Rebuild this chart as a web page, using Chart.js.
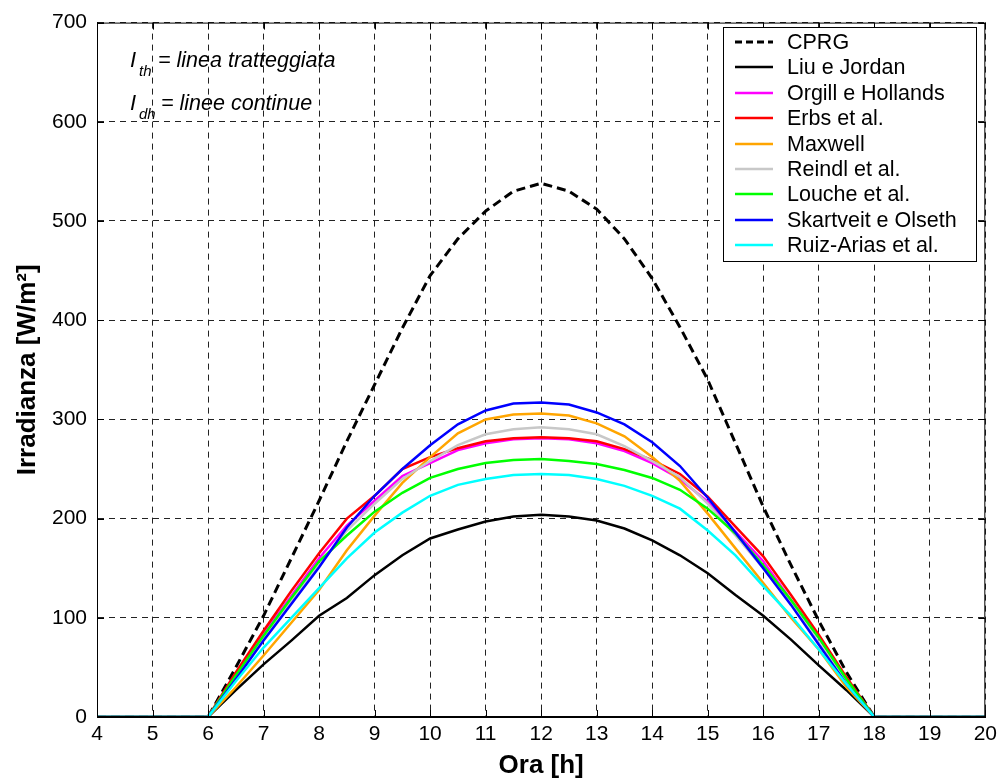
<!DOCTYPE html>
<html>
<head>
<meta charset="utf-8">
<script src="https://cdn.jsdelivr.net/npm/chart.js@4.4.0/dist/chart.umd.min.js"></script>
<style>
  body { margin: 0; background: #fff; }
  canvas { display: block; }
</style>
</head>
<body>
<canvas id="c" width="1002" height="784"></canvas>
<script>
// ore del giorno (asse x)
const hours = [4, 5, 6, 6.5, 7, 7.5, 8, 8.5, 9, 9.5, 10, 10.5, 11, 11.5, 12,
  12.5, 13, 13.5, 14, 14.5, 15, 15.5, 16, 16.5, 17, 17.5, 18, 19, 20];

// irradianza [W/m2]
const cprg     = [0, 0, 0, 50, 102, 160, 218, 278, 335, 392, 445, 482, 510, 530, 538, 530, 512, 482, 442, 393, 340, 276, 212, 153, 97, 45, 0, 0, 0];
const liu      = [0, 0, 0, 27, 53, 77, 102, 120, 143, 163, 180, 189, 197, 202, 204, 202, 198, 190, 178, 163, 145, 123, 102, 78, 52, 27, 0, 0, 0];
const orgill   = [0, 0, 0, 43, 84, 122, 160, 193, 218, 243, 256, 269, 276, 280, 281, 280, 276, 268, 256, 240, 217, 187, 157, 118, 80, 38, 0, 0, 0];
const erbs     = [0, 0, 0, 45, 87, 127, 165, 200, 223, 250, 262, 271, 278, 281, 282, 281, 278, 270, 259, 245, 222, 192, 162, 123, 83, 40, 0, 0, 0];
const maxwell  = [0, 0, 0, 30, 62, 95, 128, 168, 203, 236, 262, 286, 300, 305, 306, 304, 296, 283, 262, 238, 205, 170, 135, 100, 68, 30, 0, 0, 0];
const reindl   = [0, 0, 0, 40, 80, 117, 153, 188, 215, 240, 258, 274, 285, 290, 292, 290, 285, 273, 258, 242, 215, 183, 150, 115, 75, 35, 0, 0, 0];
const louche   = [0, 0, 0, 42, 82, 120, 157, 183, 207, 226, 241, 250, 256, 259, 260, 258, 255, 249, 241, 229, 210, 185, 153, 118, 80, 38, 0, 0, 0];
const skartv   = [0, 0, 0, 38, 77, 114, 151, 191, 223, 250, 274, 295, 309, 316, 317, 315, 307, 295, 277, 253, 221, 186, 150, 113, 73, 33, 0, 0, 0];
const ruiz     = [0, 0, 0, 36, 70, 100, 130, 160, 186, 206, 223, 234, 240, 244, 245, 244, 240, 233, 223, 210, 188, 163, 132, 102, 68, 33, 0, 0, 0];

const seriesNames = ['CPRG', 'Liu e Jordan', 'Orgill e Hollands', 'Erbs et al.', 'Maxwell',
  'Reindl et al.', 'Louche et al.', 'Skartveit e Olseth', 'Ruiz-Arias et al.'];
const seriesData = [cprg, liu, orgill, erbs, maxwell, reindl, louche, skartv, ruiz];
const seriesColors = ['#000000', '#000000', '#ff00ff', '#ff0000', '#ffa500',
  '#c8c8c8', '#00ff00', '#0000ff', '#00ffff'];

const xTicks = [4, 5, 6, 7, 8, 9, 10, 11, 12, 13, 14, 15, 16, 17, 18, 19, 20];
const yTicks = [0, 100, 200, 300, 400, 500, 600, 700];

const FONT = '"Liberation Sans", Arial, sans-serif';

const datasets = seriesNames.map((name, i) => ({
  label: name,
  data: hours.map((h, k) => ({ x: h, y: seriesData[i][k] })),
  borderColor: seriesColors[i],
  borderWidth: i === 0 ? 3 : 2.5,
  borderDash: i === 0 ? [9, 5] : [],
  pointRadius: 0,
  tension: 0,
  fill: false,
  order: seriesNames.length - i
}));

// riquadro, tacche interne, legenda e nota
const framePlugin = {
  id: 'frame',
  afterDraw(chart) {
    const ctx = chart.ctx;
    const a = chart.chartArea;
    const sx = chart.scales.x, sy = chart.scales.y;
    ctx.save();
    ctx.strokeStyle = '#000';
    ctx.lineWidth = 1;
    ctx.setLineDash([]);
    ctx.strokeRect(a.left + 0.5, a.top + 0.5, a.right - a.left - 1, a.bottom - a.top - 1);
    const tl = 7;
    ctx.beginPath();
    xTicks.forEach(v => {
      const px = Math.round(sx.getPixelForValue(v)) + 0.5;
      ctx.moveTo(px, a.bottom); ctx.lineTo(px, a.bottom - tl);
      ctx.moveTo(px, a.top); ctx.lineTo(px, a.top + tl);
    });
    yTicks.forEach(v => {
      const py = Math.round(sy.getPixelForValue(v)) + 0.5;
      ctx.moveTo(a.left, py); ctx.lineTo(a.left + tl, py);
      ctx.moveTo(a.right, py); ctx.lineTo(a.right - tl, py);
    });
    ctx.stroke();

    // nota in alto a sinistra
    ctx.fillStyle = '#000';
    ctx.textBaseline = 'alphabetic';
    ctx.textAlign = 'left';
    ctx.font = 'italic 22px ' + FONT;
    ctx.fillText('I', 130, 67);
    ctx.fillText('I', 130, 110);
    ctx.font = 'italic 21.5px ' + FONT;
    ctx.fillText('= linea tratteggiata', 158, 67);
    ctx.fillText('= linee continue', 161, 110);
    ctx.font = 'italic 15px ' + FONT;
    ctx.fillText('th', 139, 76);
    ctx.fillText('dh', 139, 119);

    // legenda
    const lx = 723, ly = 27, lw = 253, lh = 234;
    ctx.fillStyle = '#fff';
    ctx.fillRect(lx, ly, lw, lh);
    ctx.strokeStyle = '#000';
    ctx.lineWidth = 1;
    ctx.strokeRect(lx + 0.5, ly + 0.5, lw, lh);
    ctx.font = '21.5px ' + FONT;
    ctx.textBaseline = 'middle';
    chart.data.datasets.forEach((ds, i) => {
      const cy = 42 + i * 25.4;
      ctx.strokeStyle = ds.borderColor;
      ctx.lineWidth = ds.borderWidth;
      ctx.setLineDash(ds.borderDash.length ? [7, 4] : []);
      ctx.beginPath();
      ctx.moveTo(735, Math.round(cy));
      ctx.lineTo(773, Math.round(cy));
      ctx.stroke();
      ctx.setLineDash([]);
      ctx.fillStyle = '#000';
      ctx.fillText(ds.label, 787, cy + 1);
    });
    ctx.restore();
  }
};

new Chart(document.getElementById('c'), {
  type: 'line',
  data: { datasets },
  options: {
    responsive: false,
    animation: false,
    devicePixelRatio: 1,
    layout: { padding: { left: 0, top: 16, right: 14, bottom: 0 } },
    plugins: { legend: { display: false }, tooltip: { enabled: false } },
    scales: {
      x: {
        type: 'linear', min: 4, max: 20,
        afterFit: s => { s.height = 67; },
        afterBuildTicks: s => { s.ticks = xTicks.map(v => ({ value: v })); },
        ticks: { autoSkip: false, maxRotation: 0, padding: 5, color: '#000', font: { family: FONT, size: 21 } },
        grid: { color: '#222', lineWidth: 1, drawTicks: false },
        border: { display: true, color: '#000', dash: [6, 5] },
        title: { display: true, text: 'Ora [h]', color: '#000', padding: { top: 0, bottom: 3 },
          font: { family: FONT, size: 26, weight: 'bold' } }
      },
      y: {
        type: 'linear', min: 0, max: 700,
        afterFit: s => { s.width = 97; },
        afterBuildTicks: s => { s.ticks = yTicks.map(v => ({ value: v })); },
        ticks: { padding: 10, color: '#000', font: { family: FONT, size: 21 } },
        grid: { color: '#222', lineWidth: 1, drawTicks: false },
        border: { display: true, color: '#000', dash: [6, 5] },
        title: { display: true, text: 'Irradianza [W/m²]', color: '#000', padding: { top: 12, bottom: 0 },
          font: { family: FONT, size: 26, weight: 'bold' } }
      }
    }
  },
  plugins: [framePlugin]
});
</script>
</body>
</html>
